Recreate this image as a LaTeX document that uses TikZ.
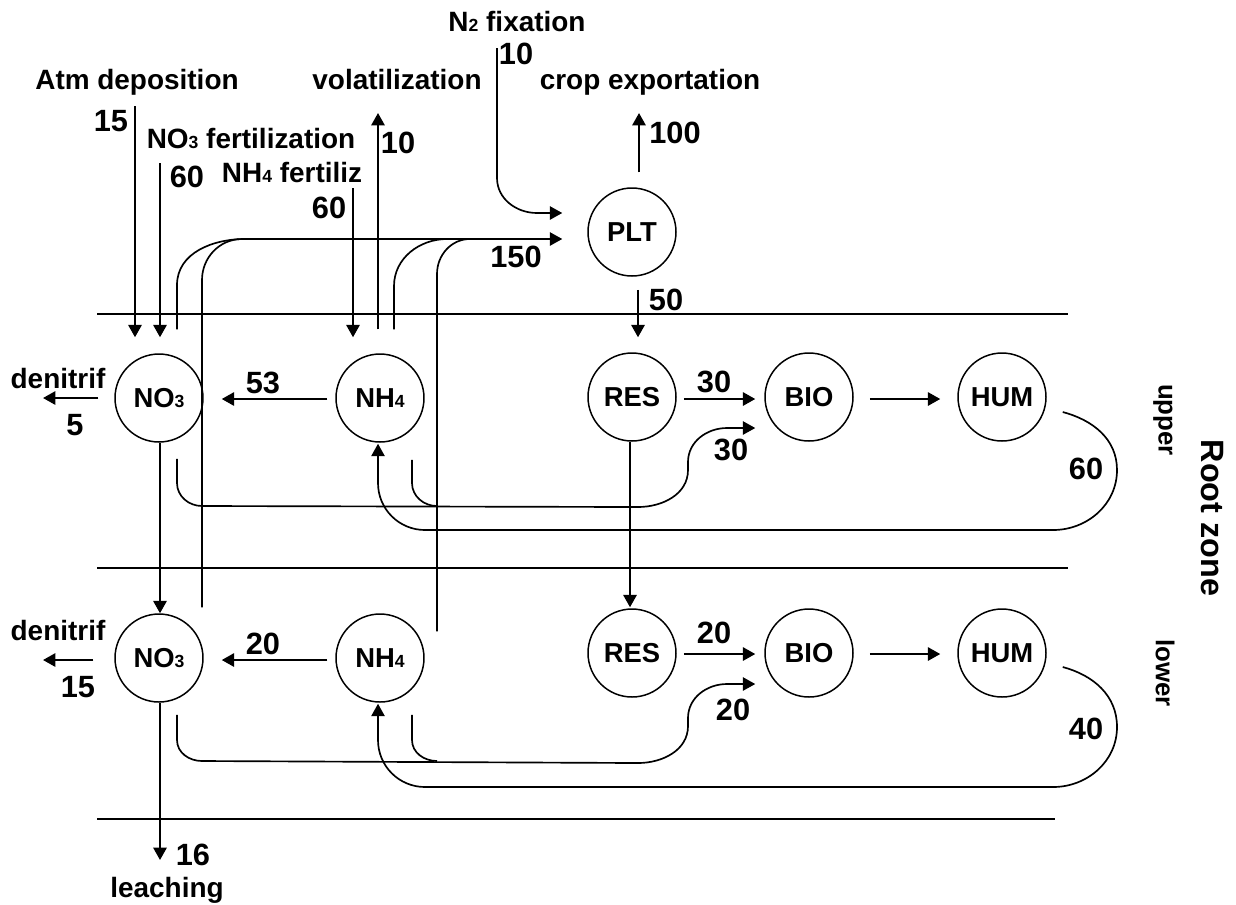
\documentclass[tikz,border=0pt]{standalone}
\usepackage{fontspec}
\setmainfont{Liberation Sans}
\usetikzlibrary{arrows.meta,calc}
\newcommand\subsc[1]{{\fontsize{10}{10}\selectfont #1}}
\begin{document}
\begin{tikzpicture}[x=0.02cm,y=0.02cm,
  every node/.style={font=\bfseries},
  pool/.style={circle,draw,line width=0.85pt,minimum size=1.76cm,inner sep=0pt,font=\bfseries\fontsize{15.6}{18}\selectfont},
  lbl/.style={font=\bfseries\fontsize{15.9}{18}\selectfont,inner sep=0pt,anchor=base},
  num/.style={font=\bfseries\fontsize{17.5}{20}\selectfont,inner sep=0pt},
  side/.style={font=\bfseries\fontsize{14.7}{16}\selectfont,inner sep=0pt,rotate=-90},
  arr/.style={line width=1.25pt,-{Triangle[length=7pt,width=7.5pt]}},
  flow/.style={line width=0.95pt},
  layer/.style={line width=1.1pt}]
\useasboundingbox (0,0) rectangle (1236,-904);

% layer lines
\draw[layer] (97,-314) -- (1068,-314);
\draw[layer] (97,-568) -- (1068,-568);
\draw[layer] (97,-819) -- (1055,-819);

% pools
\node[pool] (plt) at (632,-232) {PLT};
\node[pool] (no3u) at (159,-398) {NO\subsc{3}};
\node[pool] (nh4u) at (380,-398) {NH\subsc{4}};
\node[pool] (resu) at (632,-397) {RES};
\node[pool] (biou) at (809,-397) {BIO};
\node[pool] (humu) at (1002,-397) {HUM};
\node[pool] (no3l) at (159,-658) {NO\subsc{3}};
\node[pool] (nh4l) at (380,-658) {NH\subsc{4}};
\node[pool] (resl) at (632,-653) {RES};
\node[pool] (biol) at (809,-653) {BIO};
\node[pool] (huml) at (1002,-653) {HUM};

% text labels
\node[lbl] (atmt) at (137,-89) {Atm deposition};
\node[lbl] (no3ft) at (251,-148) {NO\subsc{3} fertilization};
\node[lbl] (nh4ft) at (292,-182) {NH\subsc{4} fertiliz};
\node[lbl] (volt) at (397,-89) {volatilization};
\node[lbl] (n2t) at (517,-31) {N\subsc{2} fixation};
\node[lbl] (cropt) at (650,-89) {crop exportation};
\node[lbl] (denut) at (58,-388) {denitrif};
\node[lbl] (denlt) at (58,-640) {denitrif};
\node[lbl] (leacht) at (167,-897) {leaching};
\node[side] (uppert) at (1163,-420) {upper};
\node[side] (lowert) at (1165,-673) {lower};
\node[side,font=\bfseries\fontsize{18.4}{20}\selectfont] (rootz) at (1212,-518) {Root zone};

% numbers
\node[num] (v15a) at (111,-121) {15};
\node[num] (v60a) at (187,-177) {60};
\node[num] (v60b) at (329,-208) {60};
\node[num] (v10a) at (398,-143) {10};
\node[num] (v10b) at (516,-54) {10};
\node[num] (v100) at (675,-133) {100};
\node[num] (v150) at (516,-257) {150};
\node[num] (v50) at (666,-300) {50};
\node[num] (v53) at (263,-383) {53};
\node[num] (v5) at (75,-425) {5};
\node[num] (v30a) at (714,-382) {30};
\node[num] (v30b) at (731,-450) {30};
\node[num] (v60c) at (1086,-469) {60};
\node[num] (v20a) at (263,-644) {20};
\node[num] (v15b) at (78,-687) {15};
\node[num] (v20b) at (714,-633) {20};
\node[num] (v20c) at (733,-710) {20};
\node[num] (v40) at (1086,-729) {40};
\node[num] (v16) at (193,-855) {16};

% free ends
\coordinate (atm0) at (135,-106);
\coordinate (nf0) at (160,-163);
\coordinate (hf0) at (353,-188);
\coordinate (vol1) at (378,-113);
\coordinate (n20) at (497,-48);
\coordinate (crop1) at (639,-113);
\coordinate (denu1) at (43,-398);
\coordinate (denl1) at (43,-660);
\coordinate (leach1) at (160,-860);
\coordinate (uptk) at ($(plt.west)+(-25,-7)$);

% inputs / outputs
\draw[arr] (atm0) -- ($(no3u.north)+(-24,16)$);
\draw[arr] (nf0) -- ($(no3u.north)+(1,16)$);
\draw[arr] (hf0) -- ($(nh4u.north)+(-27,16)$);
\draw[arr] ($(nh4u.north)+(-2,24)$) -- (vol1);
\draw[arr,flow] (n20) -- (497,-178) to[out=-90,in=180] (537,-213) -- ($(plt.west)+(-25,19)$);
\draw[arr] ($(plt.north)+(7,15)$) -- (crop1);

% plant uptake
\draw[arr,flow] ($(no3u.north)+(18,24)$) -- (177,-285) to[out=90,in=180] (245,-239) -- (uptk);
\draw[flow] ($(no3l.north)+(43,6)$) -- (202,-280) to[out=90,in=180] (242,-239);
\draw[flow] ($(nh4u.north)+(14,24)$) -- (394,-286) to[out=90,in=180] (447,-239);
\draw[flow] ($(nh4l.north)+(57,-18)$) -- (437,-274) to[out=90,in=180] (470,-239);

% vertical transfers
\draw[arr] ($(plt.south)+(6,-13)$) -- ($(resu.north)+(6,15)$);
\draw[arr] ($(resu.south)+(-2,0)$) -- ($(resl.north)+(-2,1)$);
\draw[arr] ($(no3u.south)+(1,0)$) -- ($(no3l.north)+(1,0)$);
\draw[arr] ($(no3l.south)+(1,0)$) -- (leach1);

% horizontal transfers
\draw[arr] ($(nh4u.west)+(-8,-1)$) -- ($(no3u.east)+(18,-1)$);
\draw[arr] ($(no3u.west)+(-16,0)$) -- (denu1);
\draw[arr] ($(nh4l.west)+(-8,-2)$) -- ($(no3l.east)+(18,-2)$);
\draw[arr] ($(no3l.west)+(-21,-2)$) -- (denl1);
\draw[arr] ($(resu.east)+(7,-2)$) -- ($(biou.west)+(-9,-2)$);
\draw[arr] ($(biou.east)+(16,-2)$) -- ($(humu.west)+(-17,-2)$);
\draw[arr] ($(resl.east)+(7,-1)$) -- ($(biol.west)+(-9,-1)$);
\draw[arr] ($(biol.east)+(16,-1)$) -- ($(huml.west)+(-17,-1)$);

% immobilisation to BIO (upper)
\draw[arr,flow] ($(no3u.south)+(18,-16)$) -- (177,-483) to[out=-90,in=180] (202,-506) -- (638,-507)
  to[out=0,in=-90] (688,-470) -- (688,-462) to[out=90,in=180] (727,-428) -- ($(biou.west)+(-9,-31)$);
\draw[flow] ($(nh4u.south)+(32,-17)$) -- (412,-483) to[out=-90,in=180] (437,-506);
% mineralisation HUM -> NH4 (upper)
\draw[arr,flow] ($(humu.east)+(16,-15)$) to[out=-15,in=90] (1117,-470) to[out=-90,in=0] (1053,-530)
  -- (425,-530) to[out=180,in=-90] (378,-483) -- ($(nh4u.south)+(-2,-1)$);

% immobilisation to BIO (lower)
\draw[arr,flow] ($(no3l.south)+(18,-12)$) -- (177,-740) to[out=-90,in=180] (202,-761) -- (638,-763)
  to[out=0,in=-90] (688,-726) -- (688,-718) to[out=90,in=180] (727,-684) -- ($(biol.west)+(-9,-31)$);
\draw[flow] ($(nh4l.south)+(32,-12)$) -- (412,-740) to[out=-90,in=180] (437,-761);
% mineralisation HUM -> NH4 (lower)
\draw[arr,flow] ($(huml.east)+(16,-14)$) to[out=-15,in=90] (1117,-727) to[out=-90,in=0] (1053,-787)
  -- (425,-787) to[out=180,in=-90] (378,-740) -- ($(nh4l.south)+(-2,-1)$);
\end{tikzpicture}
\end{document}
